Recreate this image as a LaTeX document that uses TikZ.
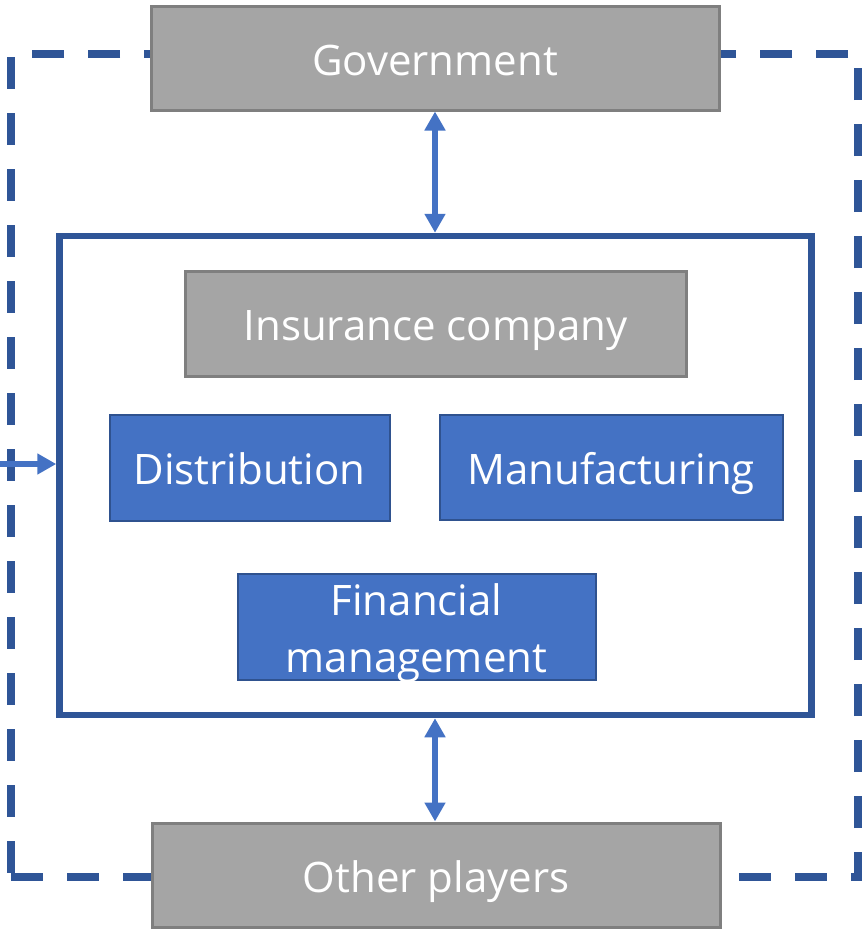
\documentclass[tikz,border=0pt]{standalone}
\usepackage{fontspec}
\setmainfont{Open Sans}
\usetikzlibrary{arrows.meta}
\definecolor{boxgray}{HTML}{A5A5A5}
\definecolor{boxgrayline}{HTML}{7F7F7F}
\definecolor{boxblue}{HTML}{4472C4}
\definecolor{boxblueline}{HTML}{2F528F}
\definecolor{frameblue}{HTML}{2F5597}
\begin{document}
\begin{tikzpicture}[x=1pt,y=-1pt,
  txt/.style={text=white,font=\fontsize{42}{57}\selectfont,align=center,inner sep=0pt},
  one/.style={text height=34pt,text depth=0pt},
  graybox/.style={txt,draw=boxgrayline,fill=boxgray,line width=3pt},
  bluebox/.style={txt,draw=boxblueline,fill=boxblue,line width=2pt},
  conn/.style={draw=boxblue,line width=6pt,{Triangle[width=20pt,length=19pt]}-{Triangle[width=20pt,length=19pt]}},
  oneway/.style={draw=boxblue,line width=6pt,-{Triangle[width=20pt,length=19pt]}}]
\useasboundingbox (0,0) rectangle (864,932);
\fill[white] (0,0) rectangle (864,932);
% dashed outer frame
\draw[frameblue,line width=8pt,dash pattern=on 32pt off 24pt,miter limit=10]
  (11,877) -- (858,877) -- (858,54) -- (11,54) -- cycle;
% inner frame
\node[draw=frameblue,line width=6.5pt,minimum width=752pt,minimum height=479pt,inner sep=0pt] (inner) at (435.5,475.5) {};
% boxes
\node[graybox,one,minimum width=568pt,minimum height=104pt] (gov) at (435,58) {Government};
\node[graybox,one,minimum width=568pt,minimum height=104pt] (other) at (436,875) {Other players};
\node[graybox,one,minimum width=501pt,minimum height=105pt] (ins) at (435.5,323.5) {Insurance company};
\node[bluebox,one,minimum width=280pt,minimum height=106pt] (dist) at (249.5,467.5) {Distribution};
\node[bluebox,one,minimum width=343pt,minimum height=105pt] (manu) at (611,467) {Manufacturing};
\node[bluebox,minimum width=358pt,minimum height=106pt] (fin) at (416.5,626.5) {};
\node[txt] (fintxt) at (416.5,633) {Financial\\management};
% connectors
\draw[conn] (gov.south -| 435,0) -- (inner.north -| 435,0);
\draw[conn] (inner.south -| 435,0) -- (other.north -| 435,0);
\coordinate (lft) at (0,464);
\draw[oneway] (lft) -- (inner.west |- lft);
\end{tikzpicture}
\end{document}
